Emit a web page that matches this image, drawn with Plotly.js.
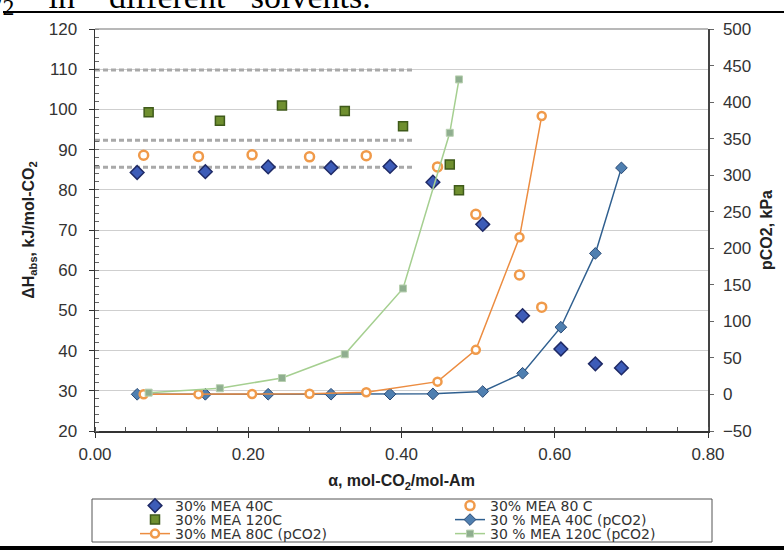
<!DOCTYPE html>
<html>
<head>
<meta charset="utf-8">
<script src="https://cdn.plot.ly/plotly-3.0.1.min.js"></script>
<style>html,body{margin:0;padding:0;background:#fff;}#chart{width:784px;height:550px;}</style>
</head>
<body>
<div id="chart"></div>
<script>
// ---- data ----
var x40   = [0.055, 0.144, 0.226, 0.308, 0.385, 0.441, 0.506, 0.558, 0.608, 0.653, 0.687];
var dH40  = [84.3, 84.5, 85.7, 85.5, 85.8, 81.9, 71.4, 48.7, 40.4, 36.7, 35.7];
var p40   = [0.2, 0.2, 0.3, 0.3, 0.4, 0.8, 4, 29, 92, 193, 310];

var x80   = [0.0635, 0.135, 0.205, 0.280, 0.354, 0.447, 0.497, 0.554, 0.583];
var dH80  = [88.6, 88.3, 88.7, 88.2, 88.5, 85.7, 73.9, 58.8, 50.8];
var p80   = [0.3, 0.4, 0.6, 1, 3, 17.5, 61, 215, 381];

var x120  = [0.070, 0.163, 0.244, 0.326, 0.402, 0.463, 0.475];
var dH120 = [99.3, 97.2, 101.0, 99.6, 95.8, 86.3, 79.9];
var p120  = [2.5, 8.5, 22.5, 55, 145, 358, 431];

var refLevels = [109.8, 92.3, 85.6];
var refX = [0, 0.415];

var names = ['30% MEA 40C', '30% MEA 80 C', '30% MEA 120C',
             '30 % MEA 40C (pCO2)', '30% MEA 80C (pCO2)', '30 % MEA 120C (pCO2)'];
var xTicks = [0, 0.2, 0.4, 0.6, 0.8];

// ---- geometry helpers (pixel -> paper) ----
var W = 784, H = 550, ML = 95, MR = 76, MT = 29, MB = 119;
var PW = W - ML - MR, PH = H - MT - MB;
function px(x){ return (x - ML) / PW; }
function py(y){ return (MT + PH - y) / PH; }

var traces = [];
refLevels.forEach(function(v){
  traces.push({x: refX, y: [v, v], type: 'scatter', mode: 'lines', showlegend: false,
    hoverinfo: 'skip', line: {color: '#a9a9a9', width: 3, dash: '5px,3px'}});
});
traces.push({x: x40, y: dH40, name: names[0], type: 'scatter', mode: 'markers', legend: 'legend',
  legendwidth: 270,
  marker: {symbol: 'diamond', size: 10.5, color: '#3d5cb8', line: {color: '#1f2a66', width: 1.5}}});
traces.push({x: x80, y: dH80, name: names[1], type: 'scatter', mode: 'markers', legend: 'legend',
  marker: {symbol: 'circle', size: 9, color: '#ffffff', line: {color: '#f09a4a', width: 2.5}}});
traces.push({x: x120, y: dH120, name: names[2], type: 'scatter', mode: 'markers', legend: 'legend2',
  legendwidth: 270,
  marker: {symbol: 'square', size: 9, color: '#6f8f2f', line: {color: '#3f5a1a', width: 1.5}}});
traces.push({x: x40, y: p40, name: names[3], type: 'scatter', mode: 'lines+markers', yaxis: 'y2', legend: 'legend2',
  line: {color: '#2f5f8f', width: 1.5},
  marker: {symbol: 'diamond', size: 9, color: '#4f7fb0', line: {color: '#2a4a75', width: 1}}});
traces.push({x: x80, y: p80, name: names[4], type: 'scatter', mode: 'lines+markers', yaxis: 'y2', legend: 'legend3',
  legendwidth: 270,
  line: {color: '#ec8c40', width: 1.5},
  marker: {symbol: 'circle', size: 8, color: '#ffffff', line: {color: '#f09a4a', width: 2.5}}});
traces.push({x: x120, y: p120, name: names[5], type: 'scatter', mode: 'lines+markers', yaxis: 'y2', legend: 'legend3',
  line: {color: '#a5cf90', width: 1.5},
  marker: {symbol: 'square', size: 7, color: '#8fae8f', line: {color: '#b8d0b0', width: 1}}});

var tickFont = {family: 'Liberation Sans, Arial, sans-serif', size: 17, color: '#333'};
var titleFont = {family: 'Liberation Sans, Arial, sans-serif', size: 16, color: '#222', weight: 'bold'};
var legFont = {family: 'DejaVu Sans, sans-serif', size: 14, color: '#333'};

function leg(rowCenter){
  return {orientation: 'h', x: px(135), xanchor: 'left', y: py(rowCenter - 16), yanchor: 'top',
    bgcolor: 'rgba(0,0,0,0)', borderwidth: 0, font: legFont, itemclick: false, tracegroupgap: 0};
}

var layout = {
  width: W, height: H,
  margin: {l: ML, r: MR, t: MT, b: MB, pad: 0, autoexpand: false},
  paper_bgcolor: '#fff', plot_bgcolor: '#fff',
  showlegend: true,
  xaxis: {range: [0, 0.8], tickvals: xTicks, tickformat: '.2f', showgrid: false, zeroline: false,
    showline: true, linecolor: '#333', linewidth: 1.5, ticks: 'outside', ticklen: 5, tickcolor: '#333',
    minor: {dtick: 0.04, ticks: 'inside', ticklen: 4, tickcolor: '#555', showgrid: false},
    tickfont: tickFont, ticklabelstandoff: 2,
    title: {text: 'α, mol-CO<sub>2</sub>/mol-Am', font: titleFont, standoff: 12}},
  yaxis: {range: [20, 120], dtick: 10, showgrid: true, gridcolor: '#cfcfcf', gridwidth: 1, zeroline: false,
    showline: true, linecolor: '#333', linewidth: 1.5, ticks: 'outside', ticklen: 5, tickcolor: '#333',
    minor: {dtick: 2, ticks: 'inside', ticklen: 4, tickcolor: '#666', showgrid: false},
    tickfont: tickFont, ticklabelstandoff: 8,
    title: {text: 'ΔH<sub>abs</sub>, kJ/mol-CO<sub>2</sub>', font: titleFont, standoff: 10}},
  yaxis2: {range: [-50, 500], dtick: 50, overlaying: 'y', side: 'right', showgrid: false, zeroline: false,
    showline: true, linecolor: '#444', linewidth: 1.5, ticks: 'outside', ticklen: 4, tickcolor: '#666',
    tickfont: tickFont, ticklabelstandoff: 6,
    title: {text: 'pCO2, kPa', font: titleFont, standoff: 10}},
  legend: leg(506), legend2: leg(520), legend3: leg(534),
  shapes: [
    {type: 'line', xref: 'paper', yref: 'paper', x0: 0, x1: 1, y0: 1, y1: 1, line: {color: '#a0a0a0', width: 1.5}},
    {type: 'line', xref: 'paper', yref: 'paper', x0: px(3), x1: px(790), y0: py(12), y1: py(12), line: {color: '#000', width: 2}},
    {type: 'rect', xref: 'paper', yref: 'paper', x0: px(-5), x1: px(790), y0: py(546), y1: py(556), fillcolor: '#000', line: {width: 0}},
    {type: 'rect', xref: 'paper', yref: 'paper', x0: px(92), x1: px(712), y0: py(542), y1: py(499), line: {color: '#555', width: 1}}
  ],
  annotations: [
    {xref: 'paper', yref: 'paper', x: px(-24), y: py(22), xanchor: 'left', yanchor: 'bottom', showarrow: false,
     text: 'O<sub>2</sub>&nbsp;&nbsp;&nbsp;&nbsp;in&nbsp;&nbsp;&nbsp;&nbsp;different&nbsp;&nbsp;&nbsp;solvents.',
     font: {family: 'Liberation Serif, Times New Roman, serif', size: 34, color: '#000'}}
  ]
};

Plotly.newPlot('chart', traces, layout, {displayModeBar: false, staticPlot: true});
</script>
</body>
</html>
